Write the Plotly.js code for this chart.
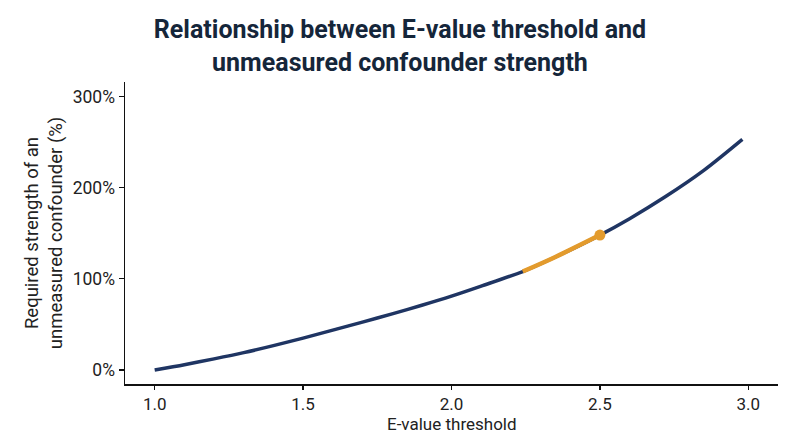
<!DOCTYPE html>
<html>
<head>
<meta charset="utf-8">
<script src="https://cdn.plot.ly/plotly-3.0.1.min.js"></script>
<style>html,body{margin:0;padding:0;background:#fff;}#chart{width:800px;height:447px;}</style>
</head>
<body>
<div id="chart"></div>
<script>
// E-value threshold vs required strength (%)
const evalues = [1.0, 1.1, 1.2, 1.3, 1.4, 1.5, 1.6, 1.7, 1.8, 1.9, 2.0, 2.1, 2.24, 2.35, 2.5, 2.6, 2.72, 2.85, 2.98];
const strength = [0, 5.8, 12.2, 19, 26.7, 35, 43.7, 52.5, 61.6, 71, 81, 92, 108, 124, 148, 166, 190, 219, 253];
const highlightE = [2.24, 2.35, 2.5];
const highlightS = [108, 124, 148];
const pointE = [2.5];
const pointS = [148];
const yTickVals = [0, 100, 200, 300];
const yTickText = ['0%', '100%', '200%', '300%'];
const xTickVals = [1.0, 1.5, 2.0, 2.5, 3.0];
const xTickText = ['1.0', '1.5', '2.0', '2.5', '3.0'];

const navy = '#1f3563';
const orange = '#e39b2d';

const traces = [
  {x: evalues, y: strength, type: 'scatter', mode: 'lines', line: {color: navy, width: 3.5, shape: 'spline', smoothing: 0.8}, hoverinfo: 'skip'},
  {x: highlightE, y: highlightS, type: 'scatter', mode: 'lines', line: {color: orange, width: 4.5, shape: 'spline'}, hoverinfo: 'skip'},
  {x: pointE, y: pointS, type: 'scatter', mode: 'markers', marker: {color: orange, size: 11}, hoverinfo: 'skip'}
];

const layout = {
  width: 800, height: 447,
  paper_bgcolor: '#fff', plot_bgcolor: '#fff',
  showlegend: false,
  font: {family: 'Roboto, sans-serif', color: '#1a1a1a'},
  margin: {l: 125, r: 22, t: 82, b: 63},
  title: {
    text: '<b>Relationship between E-value threshold and<br>unmeasured confounder strength</b>',
    font: {family: 'Roboto, sans-serif', size: 25, color: '#15263a'},
    x: 0.5, xref: 'container', xanchor: 'center',
    y: 0.914, yref: 'container', yanchor: 'middle'
  },
  xaxis: {
    range: [0.9, 3.1],
    tickvals: xTickVals,
    ticktext: xTickText,
    showgrid: false, zeroline: false,
    showline: true, linecolor: '#111', linewidth: 1.5,
    ticks: 'outside', ticklen: 4, tickcolor: '#111', tickwidth: 1.2,
    tickfont: {size: 17, color: '#222'}
  },
  yaxis: {
    range: [-15.4, 316],
    tickvals: yTickVals,
    ticktext: yTickText,
    showgrid: false, zeroline: false,
    showline: true, linecolor: '#111', linewidth: 1.5,
    ticks: 'outside', ticklen: 5, tickcolor: '#111', tickwidth: 1.2,
    tickfont: {size: 17.5, color: '#222'},
    title: {text: 'Required strength of an<br>unmeasured confounder (%)', font: {size: 18.5, color: '#222'}, standoff: 5}
  },
  annotations: [{
    text: 'E-value threshold', showarrow: false,
    xref: 'paper', x: 0.5, xanchor: 'center',
    yref: 'paper', y: -0.132, yanchor: 'middle',
    font: {size: 17, color: '#222'}
  }]
};

Plotly.newPlot('chart', traces, layout, {displayModeBar: false, staticPlot: true});
</script>
</body>
</html>
